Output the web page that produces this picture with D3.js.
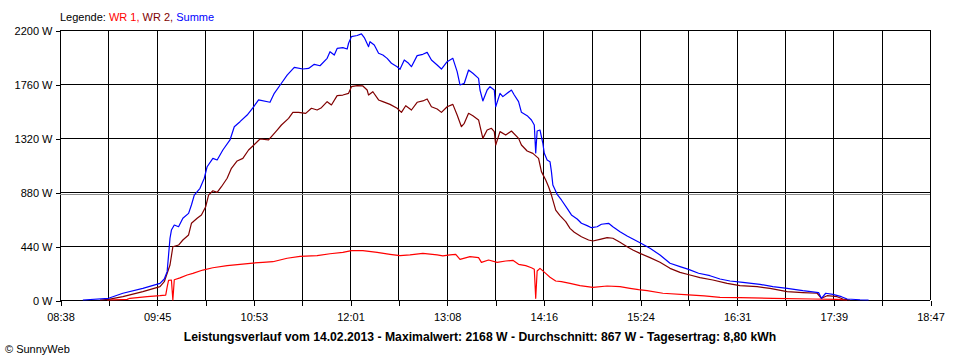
<!DOCTYPE html>
<html>
<head>
<meta charset="utf-8">
<script src="https://cdn.jsdelivr.net/npm/d3@7"></script>
<style>
  html, body { margin: 0; padding: 0; background: #fff; }
  svg { display: block; }
  text { font-family: "Liberation Sans", Arial, sans-serif; font-size: 11px; }
</style>
</head>
<body>
<svg id="chart" width="960" height="360"></svg>
<script>
// ---------- data ----------
const seriesNames = ["WR 1", "WR 2", "Summe"];
const seriesColors = ["#ff0000", "#800000", "#0000ff"];
const yTicks = [0, 440, 880, 1320, 1760, 2200];
const xTickLabels = ["08:38","09:45","10:53","12:01","13:08","14:16","15:24","16:31","17:39","18:47"];
const timeStart = "08:38", timeEnd = "18:47";
const average = 867;
const title = "Leistungsverlauf vom 14.02.2013 - Maximalwert: 2168 W - Durchschnitt: 867 W - Tagesertrag: 8,80 kWh";

const wr1 = [
  ["09:11",0],["09:25",5],["09:27",14],["09:39",27],["09:48",35],["09:52",40],["09:53",105],
  ["09:54",160],["09:56",163],["09:57",0],["09:58",165],["10:02",180],["10:07",204],["10:11",217],
  ["10:18",244],["10:25",263],["10:35",280],["10:44",291],["10:53",301],["11:00",307],["11:07",312],
  ["11:17",340],["11:26",356],["11:38",361],["11:47",377],["11:56",388],["12:02",402],["12:10",402],
  ["12:20",388],["12:29",372],["12:36",361],["12:43",367],["12:52",380],["13:02",367],["13:06",359],
  ["13:11",367],["13:15",372],["13:18",331],["13:25",353],["13:31",345],["13:33",307],["13:38",326],
  ["13:44",307],["13:50",318],["13:55",323],["13:59",291],["14:04",280],["14:08",263],["14:10",250],
  ["14:11",14],["14:12",236],["14:14",258],["14:18",217],["14:21",185],["14:25",155],["14:29",149],
  ["14:35",136],["14:42",117],["14:51",103],["15:01",114],["15:10",109],["15:17",95],["15:23",84],
  ["15:29",76],["15:40",55],["15:58",41],["16:09",33],["16:20",22],["16:34",19],["16:57",14],
  ["17:25",8],["17:42",5],["17:49",0]
];

const wr2 = [
  ["09:06",0],["09:12",5],["09:22",27],["09:36",68],["09:48",109],["09:51",149],["09:55",285],
  ["09:57",434],["10:01",448],["10:04",489],["10:08",530],["10:10",625],["10:14",666],["10:17",693],
  ["10:20",760],["10:22",855],["10:25",890],["10:28",877],["10:31",923],["10:35",992],["10:38",1073],
  ["10:42",1133],["10:46",1154],["10:50",1222],["10:53",1255],["10:58",1312],["11:04",1304],
  ["11:06",1331],["11:10",1385],["11:13",1426],["11:18",1480],["11:21",1529],["11:25",1529],
  ["11:30",1521],["11:34",1562],["11:38",1548],["11:41",1567],["11:45",1616],["11:48",1589],
  ["11:52",1665],["11:56",1670],["12:00",1684],["12:02",1738],["12:06",1747],["12:10",1744],
  ["12:13",1711],["12:14",1670],["12:17",1697],["12:21",1630],["12:24",1616],["12:29",1594],
  ["12:34",1562],["12:37",1529],["12:40",1583],["12:44",1548],["12:48",1611],["12:52",1622],
  ["12:55",1638],["12:58",1575],["13:02",1556],["13:05",1529],["13:09",1575],["13:13",1594],
  ["13:16",1507],["13:19",1412],["13:21",1440],["13:24",1521],["13:27",1502],["13:31",1467],
  ["13:34",1317],["13:37",1385],["13:40",1399],["13:42",1372],["13:43",1263],["13:46",1372],
  ["13:50",1344],["13:54",1377],["13:59",1317],["14:01",1263],["14:05",1214],["14:09",1195],
  ["14:13",1154],["14:15",1046],["14:18",978],["14:20",923],["14:22",855],["14:25",733],
  ["14:28",687],["14:32",638],["14:35",584],["14:38",552],["14:43",516],["14:48",489],["14:51",481],
  ["14:56",494],["15:01",508],["15:05",503],["15:10",470],["15:15",434],["15:19",407],["15:24",380],
  ["15:31",345],["15:38",307],["15:45",258],["15:52",225],["15:59",204],["16:06",182],["16:15",163],
  ["16:25",136],["16:34",117],["16:46",109],["16:55",95],["17:07",68],["17:18",60],["17:28",55],
  ["17:31",14],["17:35",35],["17:42",27],["17:46",8],["17:51",0]
];

const summe = [
  ["08:54",0],["09:12",14],["09:22",55],["09:36",95],["09:48",136],["09:51",171],["09:53",231],
  ["09:54",367],["09:55",503],["09:56",570],["09:58",611],["10:01",597],["10:04",666],["10:08",706],
  ["10:10",774],["10:12",855],["10:16",910],["10:19",992],["10:21",1086],["10:25",1154],["10:28",1141],
  ["10:32",1222],["10:37",1304],["10:40",1412],["10:44",1453],["10:49",1507],["10:53",1565],
  ["10:57",1630],["11:05",1611],["11:08",1684],["11:13",1766],["11:17",1833],["11:22",1896],
  ["11:28",1882],["11:32",1887],["11:36",1920],["11:40",1909],["11:45",1969],["11:47",2023],
  ["11:50",1996],["11:52",2050],["11:56",2056],["11:59",2045],["12:00",2092],["12:02",2146],
  ["12:06",2155],["12:09",2168],["12:11",2138],["12:14",2064],["12:15",2105],["12:18",2078],
  ["12:21",2010],["12:24",1996],["12:27",1969],["12:30",1929],["12:34",1901],["12:36",1880],
  ["12:39",1956],["12:42",1929],["12:44",1901],["12:48",1991],["12:52",2002],["12:55",2018],
  ["12:58",1956],["13:02",1915],["13:05",1882],["13:09",1942],["13:13",1969],["13:16",1861],
  ["13:18",1752],["13:21",1766],["13:24",1874],["13:27",1847],["13:31",1806],["13:32",1711],
  ["13:34",1622],["13:37",1711],["13:39",1738],["13:42",1711],["13:43",1575],["13:46",1684],
  ["13:48",1657],["13:51",1684],["13:54",1711],["13:56",1670],["13:59",1616],["14:01",1529],
  ["14:05",1502],["14:08",1467],["14:10",1426],["14:11",1198],["14:12",1377],["14:14",1385],
  ["14:16",1277],["14:17",1195],["14:19",1141],["14:21",1127],["14:22",1046],["14:23",937],
  ["14:26",861],["14:29",815],["14:33",747],["14:36",693],["14:40",660],["14:43",625],["14:47",606],
  ["14:50",589],["14:54",597],["14:57",617],["15:02",625],["15:05",597],["15:10",557],["15:15",521],
  ["15:19",497],["15:24",466],["15:31",421],["15:38",367],["15:45",299],["15:52",272],["15:58",250],
  ["16:05",218],["16:13",198],["16:20",171],["16:27",155],["16:36",144],["16:48",128],["16:57",109],
  ["17:07",95],["17:18",76],["17:29",60],["17:31",14],["17:34",55],["17:39",46],["17:45",27],
  ["17:49",8],["17:58",2],["18:04",0]
];

// ---------- chart ----------
(function () {
const parse = d3.timeParse("%H:%M");
const svg = d3.select("#chart");
const pLeft = 60, pRight = 930, pTop = 30, pBottom = 300;

const x = d3.scaleTime().domain([parse(timeStart), parse(timeEnd)]).range([pLeft, pRight]);
const y = d3.scaleLinear().domain([0, 2200]).range([pBottom, pTop]);

const t0 = parse(timeStart).getTime(), t1 = parse(timeEnd).getTime();
const gridTimes = d3.range(19).map(i => new Date(t0 + i * (t1 - t0) / 18));

// horizontal grid
svg.append("g").selectAll("line").data(yTicks).join("line")
  .attr("x1", pLeft).attr("x2", pRight)
  .attr("y1", d => Math.round(y(d)) + 0.5).attr("y2", d => Math.round(y(d)) + 0.5)
  .attr("stroke", "#000").attr("stroke-width", 1).attr("shape-rendering", "crispEdges");

// vertical grid
svg.append("g").selectAll("line").data(gridTimes).join("line")
  .attr("x1", d => Math.round(x(d)) + 0.5).attr("x2", d => Math.round(x(d)) + 0.5)
  .attr("y1", pTop).attr("y2", pBottom)
  .attr("stroke", "#000").attr("stroke-width", 1).attr("shape-rendering", "crispEdges");

// average line
svg.append("line")
  .attr("x1", pLeft).attr("x2", pRight)
  .attr("y1", Math.round(y(average)) + 0.5).attr("y2", Math.round(y(average)) + 0.5)
  .attr("stroke", "#8c8c8c").attr("stroke-width", 1).attr("shape-rendering", "crispEdges");

// axes
const yAxis = d3.axisLeft(y).tickValues(yTicks).tickSize(5).tickPadding(3)
  .tickFormat(d => d + " W");
const gy = svg.append("g").attr("transform", `translate(${pLeft + 0.5},0.5)`).call(yAxis);
gy.select(".domain").remove();
gy.selectAll("line").attr("shape-rendering", "crispEdges").attr("stroke", "#000");
gy.selectAll("text").attr("fill", "#000").style("font-size", "11px")
  .style("font-family", '"Liberation Sans", Arial, sans-serif');

const xAxis = d3.axisBottom(x).tickValues(gridTimes).tickSize(5).tickPadding(8)
  .tickFormat((d, i) => i % 2 === 0 ? xTickLabels[i / 2] : "");
const gx = svg.append("g").attr("transform", `translate(0.5,${pBottom + 0.5})`).call(xAxis);
gx.select(".domain").remove();
gx.selectAll("line").attr("shape-rendering", "crispEdges").attr("stroke", "#000");
gx.selectAll("text").attr("fill", "#000").style("font-size", "11px")
  .style("font-family", '"Liberation Sans", Arial, sans-serif');

// series
const line = d3.line().x(d => x(parse(d[0]))).y(d => y(d[1])).curve(d3.curveLinear);
[wr1, wr2, summe].forEach((s, i) => {
  svg.append("path").datum(s)
    .attr("d", line)
    .attr("fill", "none")
    .attr("stroke", seriesColors[i])
    .attr("stroke-width", 1.2)
    .attr("stroke-linejoin", "round");
});

// legend
const leg = svg.append("text").attr("x", pLeft).attr("y", 21);
leg.append("tspan").text("Legende: ").attr("fill", "#000");
seriesNames.forEach((n, i) => {
  leg.append("tspan").text(n + (i < seriesNames.length - 1 ? ", " : "")).attr("fill", seriesColors[i]);
});

// title
svg.append("text").attr("x", 480).attr("y", 341).attr("text-anchor", "middle")
  .style("font-weight", "bold").style("font-size", "12.2px").text(title);

// copyright
svg.append("text").attr("x", 5).attr("y", 353).text("© SunnyWeb");
})();
</script>
</body>
</html>
